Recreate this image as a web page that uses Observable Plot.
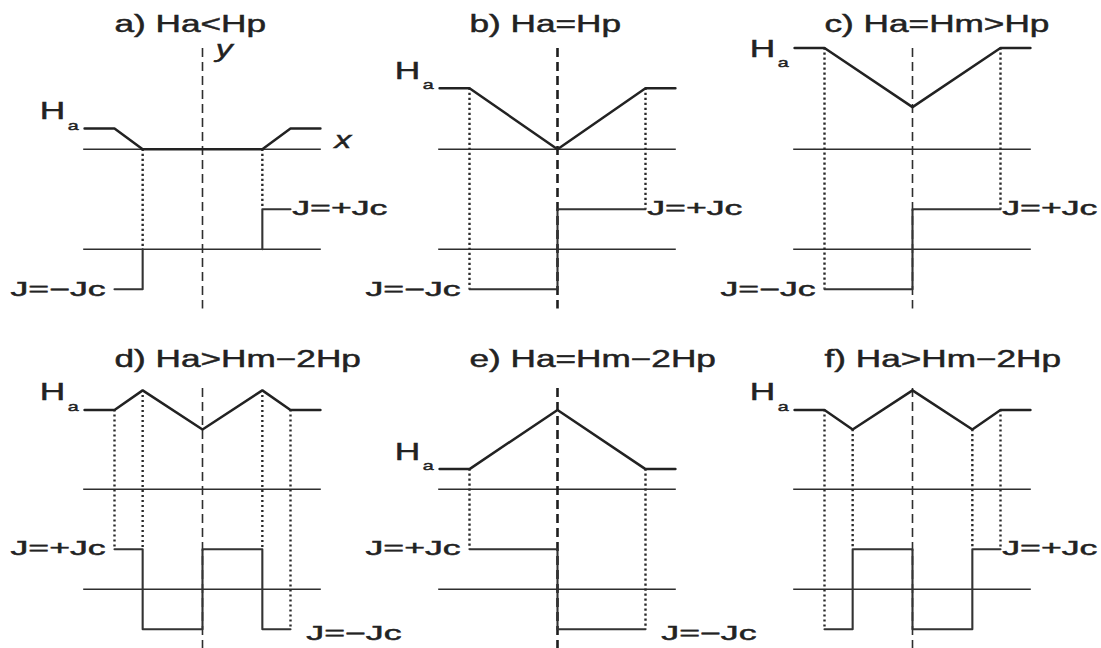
<!DOCTYPE html>
<html>
<head>
<meta charset="utf-8">
<script src="https://cdn.jsdelivr.net/npm/d3@7"></script>
<script src="https://cdn.jsdelivr.net/npm/@observablehq/plot@0.6"></script>
<style>
  html, body { margin: 0; padding: 0; background: #fff; }
  #chart svg { display: block; font-family: "Liberation Sans", Arial, Helvetica, sans-serif; }
  #chart svg text { stroke: #222; stroke-width: 0.45px; paint-order: stroke; }
</style>
</head>
<body>
<div id="chart"></div>
<script>
// Bean critical-state model: field H(x) and current J(x) across a slab
// for six stages of the applied field Ha.

const panelTitles = ["a) Ha<Hp", "b) Ha=Hp", "c) Ha=Hm>Hp", "d) Ha>Hm−2Hp", "e) Ha=Hm−2Hp", "f) Ha>Hm−2Hp"];

// Field profiles [x, H]: x in slab half-widths (edges at ±1), H in units of Hp
const fieldA = [[-1.34, 0.34], [-1, 0.34], [-0.68, 0], [0.68, 0], [1, 0.34], [1.34, 0.34]];
const fieldB = [[-1.34, 1], [-1, 1], [0, 0], [1, 1], [1.34, 1]];
const fieldC = [[-1.34, 1.66], [-1, 1.66], [0, 0.69], [1, 1.66], [1.34, 1.66]];
const fieldD = [[-1.34, 1.3], [-1, 1.3], [-0.68, 1.62], [0, 0.98], [0.68, 1.62], [1, 1.3], [1.34, 1.3]];
const fieldE = [[-1.34, 0.33], [-1, 0.33], [0, 1.3], [1, 0.33], [1.34, 0.33]];
const fieldF = [[-1.34, 1.3], [-1, 1.3], [-0.68, 0.98], [0, 1.62], [0.68, 0.98], [1, 1.3], [1.34, 1.3]];

// Current profiles [x, J/Jc]; null starts a new piece
const currentA = [[-1, -1], [-0.68, -1], [-0.68, 0], null, [0.68, 0], [0.68, 1], [1, 1]];
const currentB = [[-1, -1], [0, -1], [0, 1], [1, 1]];
const currentC = [[-1, -1], [0, -1], [0, 1], [1, 1]];
const currentD = [[-1, 1], [-0.68, 1], [-0.68, -1], [0, -1], [0, 1], [0.68, 1], [0.68, -1], [1, -1]];
const currentE = [[-1, 1], [0, 1], [0, -1], [1, -1]];
const currentF = [[-1, -1], [-0.68, -1], [-0.68, 1], [0, 1], [0, -1], [0.68, -1], [0.68, 1], [1, 1]];

// Flux-front guides [x, H at the top, J/Jc at the bottom]
const guidesA = [[-0.68, 0, 0], [0.68, 0, 1]];
const guidesB = [[-1, 1, -1], [1, 1, 1]];
const guidesC = [[-1, 1.66, -1], [1, 1.66, 1]];
const guidesD = [[-1, 1.3, 1], [-0.68, 1.62, 1], [0.68, 1.62, 1], [1, 1.3, -1]];
const guidesE = [[-1, 0.33, 1], [1, 0.33, -1]];
const guidesF = [[-1, 1.3, -1], [-0.68, 0.98, 1], [0.68, 0.98, 1], [1, 1.3, 1]];

// Applied field Ha per panel (level of the "Ha" label), units of Hp
const appliedField = [0.34, 1, 1.66, 1.3, 0.33, 1.3];

// Current labels: [panel index, text, J/Jc, side]
const currentLabels = [
  [0, "J=−Jc", -1, "left"], [0, "J=+Jc", 1, "right"],
  [1, "J=−Jc", -1, "left"], [1, "J=+Jc", 1, "right"],
  [2, "J=−Jc", -1, "left"], [2, "J=+Jc", 1, "right"],
  [3, "J=+Jc", 1, "left"], [3, "J=−Jc", -1, "right"],
  [4, "J=+Jc", 1, "left"], [4, "J=−Jc", -1, "right"],
  [5, "J=+Jc", 1, "right"]
];

// ---- layout ----
const J_AXIS = -1.64;        // J = 0 baseline below the field axis
const J_UNIT = 0.656;        // drawn height of Jc
const AXIS_HALF = 1.35;      // half length of the axis lines
const TITLE_Y = [2.05, 2.13];
const jy = j => J_AXIS + j * J_UNIT;
const col = i => i % 3;
const row = i => Math.floor(i / 3);

const fields = [fieldA, fieldB, fieldC, fieldD, fieldE, fieldF];
const currents = [currentA, currentB, currentC, currentD, currentE, currentF];
const guides = [guidesA, guidesB, guidesC, guidesD, guidesE, guidesF];
const panels = panelTitles.map((title, i) => ({i, title, col: col(i), row: row(i), ha: appliedField[i]}));

const fieldRows = fields.flatMap((pts, i) => pts.map(([x, h]) => ({col: col(i), row: row(i), x, y: h, z: i})));
const currentRows = currents.flatMap((pts, i) => {
  let piece = 0;
  return pts.flatMap(p => p === null ? (piece++, []) : [{col: col(i), row: row(i), x: p[0], y: jy(p[1]), z: `${i}-${piece}`}]);
});
const guideRows = guides.flatMap((g, i) => g.map(([x, h, j]) => ({col: col(i), row: row(i), x, y1: h, y2: jy(j)})));
const axisRows = panels.flatMap(p => [{col: p.col, row: p.row, y: 0}, {col: p.col, row: p.row, y: J_AXIS}]);
const labelRows = currentLabels.map(([i, text, j, side]) => ({
  col: col(i), row: row(i), text, side,
  x: side === "left" ? -1.1 : (j < 0 && row(i) === 1 ? 1.18 : 1.02),
  y: jy(j) - (side === "right" && j < 0 && row(i) === 1 ? 0.08 : 0)
}));
// "Ha" label sits above the level, except where the level is at the top of the panel
const haRows = panels.map(p => ({...p, hy: p.ha + (p.i === 2 ? -0.02 : 0.28)}));
const thickCenter = new Set([1, 4]);

const ink = "#222";
const plot = Plot.plot({
  width: 1101,
  height: 648,
  margin: 0,
  fx: {domain: [0, 1, 2], paddingInner: 0, paddingOuter: 0.0507, axis: null},
  fy: {domain: [0, 1], paddingInner: 32 / 340, paddingOuter: 0, axis: null},
  x: {domain: [-2.0909, 1.9432], axis: null},
  y: {domain: [-2.611, 2.438], axis: null},
  marks: [
    // field and current axes
    Plot.ruleY(axisRows, {y: "y", x1: -AXIS_HALF, x2: AXIS_HALF, fx: "col", fy: "row", stroke: "#2e2e2e", strokeWidth: 1.6}),
    // symmetry plane of the slab
    Plot.ruleX(panels.filter(p => !thickCenter.has(p.i)), {x: 0, y1: 1.65, y2: -2.62, fx: "col", fy: "row", stroke: "#2e2e2e", strokeWidth: 1.6, strokeDasharray: "9,5"}),
    Plot.ruleX(panels.filter(p => thickCenter.has(p.i)), {x: 0, y1: 1.65, y2: -2.62, fx: "col", fy: "row", stroke: "#1e1e1e", strokeWidth: 2.6, strokeDasharray: "9,5"}),
    // flux fronts linking H and J
    Plot.ruleX(guideRows, {x: "x", y1: "y1", y2: "y2", fx: "col", fy: "row", stroke: "#2a2a2a", strokeWidth: 2.4, strokeDasharray: "2.2,2.8"}),
    // current density
    Plot.line(currentRows, {x: "x", y: "y", z: "z", fx: "col", fy: "row", stroke: "#333", strokeWidth: 2.1, curve: "linear"}),
    // field profile
    Plot.line(fieldRows, {x: "x", y: "y", z: "z", fx: "col", fy: "row", stroke: ink, strokeWidth: 2.5, strokeLinejoin: "miter"}),
    // titles
    Plot.text(panels, {x: -1, y: d => TITLE_Y[d.row], text: "title", fx: "col", fy: "row", textAnchor: "start", fontSize: 23, fill: "#222"}),
    // Ha labels
    Plot.text(haRows, {x: -1.85, y: "hy", text: () => "H", fx: "col", fy: "row", textAnchor: "start", fontSize: 23.5, fill: "#222"}),
    Plot.text(haRows, {x: -1.53, y: d => d.hy - 0.23, text: () => "a", fx: "col", fy: "row", textAnchor: "start", fontSize: 13, fill: "#222"}),
    // current labels
    Plot.text(labelRows.filter(d => d.side === "left"), {x: "x", y: "y", text: "text", fx: "col", fy: "row", textAnchor: "end", fontSize: 19.5, fill: "#222"}),
    Plot.text(labelRows.filter(d => d.side === "right"), {x: "x", y: "y", text: "text", fx: "col", fy: "row", textAnchor: "start", fontSize: 19.5, fill: "#222"}),
    // coordinate names in the first panel
    Plot.text([{col: 0, row: 0, x: 0.15, y: 1.63, t: "y"}, {col: 0, row: 0, x: 1.5, y: 0.154, t: "x"}],
      {x: "x", y: "y", text: "t", fx: "col", fy: "row", textAnchor: "start", fontSize: 24, fontStyle: "italic", fill: "#222"})
  ]
});

document.getElementById("chart").appendChild(plot);

// widen the lettering to the chart's broad type
const widen = t => /^[a-f]\)/.test(t) ? 1.53 : /^J=/.test(t) ? 1.83 : (t === "x" || t === "y") ? 1.4 : 1.5;
plot.querySelectorAll("text").forEach(el => {
  const w = el.getComputedTextLength();
  if (w > 0) {
    el.setAttribute("textLength", (w * widen(el.textContent)).toFixed(1));
    el.setAttribute("lengthAdjust", "spacingAndGlyphs");
  }
});
</script>
</body>
</html>
